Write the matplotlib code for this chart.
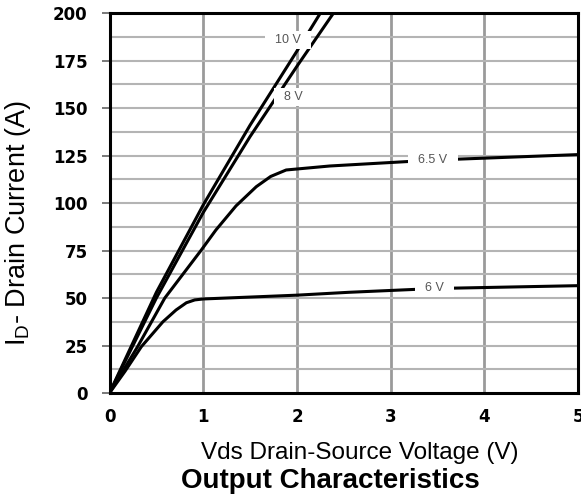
import numpy as np
import matplotlib.pyplot as plt

plt.rcParams['font.family'] = ['Liberation Sans', 'DejaVu Sans']

## Curve data ##
vds_10 = [0, 0.5, 1.0, 1.5, 2.0, 2.25, 2.45]
id_10 = [0, 53, 99, 141, 180, 200, 215]
vds_8 = [0, 0.5, 1.0, 1.5, 2.0, 2.39, 2.55]
id_8 = [0, 50, 95, 135, 172, 200, 211]
vds_65 = [0, 0.3, 0.59, 0.98, 1.135, 1.35, 1.566, 1.72, 1.885, 2.35, 3.45, 5.0]
id_65 = [0, 24.4, 50, 75.3, 85.8, 98.5, 108.6, 114, 117.4, 119.5, 122.6, 125.5]
vds_6 = [0, 0.165, 0.34, 0.57, 0.71, 0.82, 0.91, 1.0, 2.0, 2.55, 3.47, 5.0]
id_6 = [0, 11.4, 24.4, 37.5, 43.7, 47.5, 49, 49.5, 51.5, 53, 55, 56.5]

labels = ['10 V', '8 V', '6.5 V', '6 V']
label_x = [1.90, 1.96, 3.45, 3.47]
label_y = [186, 155.8, 122.6, 55.3]

x_ticks = [0, 1, 2, 3, 4, 5]
y_ticks = [0, 25, 50, 75, 100, 125, 150, 175, 200]

fig = plt.figure(figsize=(5.81, 5.03), dpi=100)
ax = fig.add_axes([0.1885, 0.2187, 0.8065, 0.7553])

# grid: vertical at each volt, horizontal every 12.5 A
for xv in x_ticks[1:-1]:
    ax.axvline(xv, color='#9a9a9a', lw=2, zorder=1)
for yv in np.arange(12.5, 200, 12.5):
    ax.axhline(yv, color='#b4b4b4', lw=1.5, zorder=1)

for xs, ys in [(vds_10, id_10), (vds_8, id_8), (vds_65, id_65), (vds_6, id_6)]:
    ax.plot(xs, ys, color='black', lw=2.2, zorder=3, solid_joinstyle='round')

for t, lx, ly in zip(labels, label_x, label_y):
    ax.text(lx, ly, '  ' + t + '  ', fontsize=9, color='#555555', ha='center', va='center',
            zorder=4, bbox=dict(boxstyle='square,pad=0.25', fc='white', ec='none'))

ax.set_xlim(0, 5)
ax.set_ylim(0, 200)
ax.set_xticks(x_ticks)
ax.set_yticks(y_ticks)
ax.tick_params(axis='y', length=5.8, width=1.1, pad=10, color='#555555')
ax.tick_params(axis='x', length=0, pad=11)
for lab in ax.get_xticklabels() + ax.get_yticklabels():
    lab.set_fontweight('bold')
    lab.set_fontsize(12)
    lab.set_family('DejaVu Sans')
for s in ax.spines.values():
    s.set_linewidth(2.2)
    s.set_zorder(5)

ax.set_ylabel(r'I$_\mathregular{D}$- Drain Current (A)', fontsize=19.5)
ax.yaxis.set_label_coords(-0.163, 0.447)
ax.set_xlabel('Vds Drain-Source Voltage (V)', fontsize=17.5)
ax.xaxis.set_label_coords(0.535, -0.128)
fig.text(0.568, 0.044, 'Output Characteristics', fontsize=20, fontweight='bold',
         ha='center', va='center')

fig.savefig('out.png', dpi=100)
